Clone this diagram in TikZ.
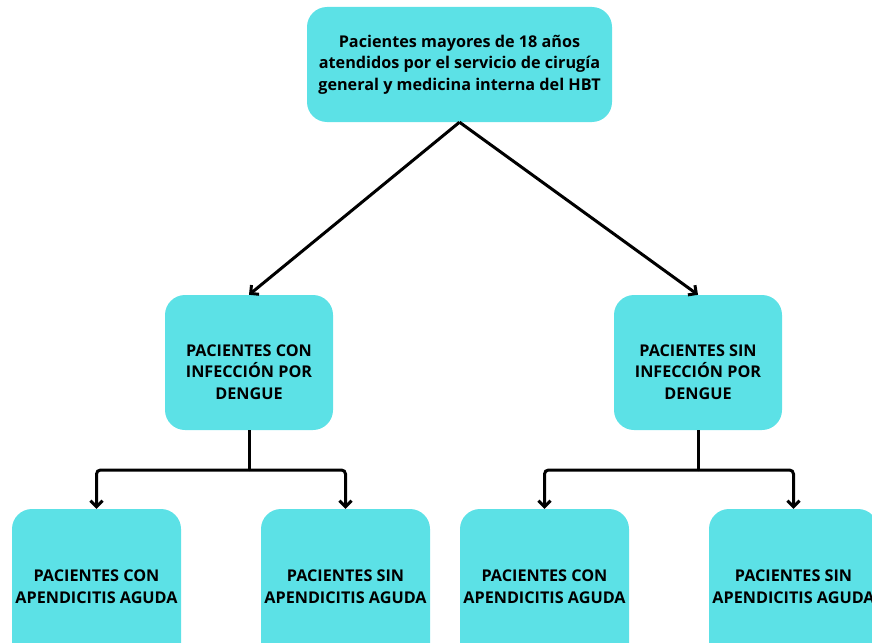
\documentclass[tikz,border=0pt]{standalone}
\usepackage{fontspec}
\setmainfont{Open Sans}
\usetikzlibrary{arrows.meta}
\definecolor{boxcyan}{HTML}{5CE1E6}
\begin{document}
\begin{tikzpicture}[x=1pt,y=-1pt,
  box/.style={fill=boxcyan, draw=none, rounded corners=20pt, inner sep=0pt},
  txt/.style={inner sep=0pt, align=center,
    font=\fontsize{16.2}{21.5}\selectfont\bfseries, text=black},
  conn/.style={line width=3pt, black},
  arr/.style={conn, -{Straight Barb[length=6pt,width=12pt,line width=3pt]}}]
\useasboundingbox (0,0) rectangle (872,642);
\node[box, minimum width=305pt, minimum height=115pt] (top) at (459.5,64.5) {};
\node[txt] (toptxt) at (459.5,64.5)
  {Pacientes mayores de 18 años\\atendidos por el servicio de cirugía\\general y medicina interna del HBT};
\node[box, minimum width=168pt, minimum height=135pt] (ml) at (249,362.5) {};
\node[txt] (mltxt) at (249,372) {PACIENTES CON\\INFECCIÓN POR\\DENGUE};
\node[box, minimum width=168pt, minimum height=135pt] (mr) at (698,362.5) {};
\node[txt] (mrtxt) at (698,372) {PACIENTES SIN\\INFECCIÓN POR\\DENGUE};
\node[box, minimum width=169pt, minimum height=155pt] (b1) at (96.5,586.5) {};
\node[txt] (b1txt) at (96.5,586.5) {PACIENTES CON\\APENDICITIS AGUDA};
\node[box, minimum width=169pt, minimum height=155pt] (b2) at (345.5,586.5) {};
\node[txt] (b2txt) at (345.5,586.5) {PACIENTES SIN\\APENDICITIS AGUDA};
\node[box, minimum width=169pt, minimum height=155pt] (b3) at (544.5,586.5) {};
\node[txt] (b3txt) at (544.5,586.5) {PACIENTES CON\\APENDICITIS AGUDA};
\node[box, minimum width=169pt, minimum height=155pt] (b4) at (793.5,586.5) {};
\node[txt] (b4txt) at (793.5,586.5) {PACIENTES SIN\\APENDICITIS AGUDA};
\draw[arr] (top.south) -- (ml.north);
\draw[arr] (top.south) -- (mr.north);
\coordinate (jl) at (249,470);
\coordinate (jr) at (698,470);
\draw[conn] (ml.south) -- (jl);
\draw[conn] (mr.south) -- (jr);
\draw[arr, rounded corners=4pt] (jl) -| (b1.north);
\draw[arr, rounded corners=4pt] (jl) -| (b2.north);
\draw[arr, rounded corners=4pt] (jr) -| (b3.north);
\draw[arr, rounded corners=4pt] (jr) -| (b4.north);
\end{tikzpicture}
\end{document}
